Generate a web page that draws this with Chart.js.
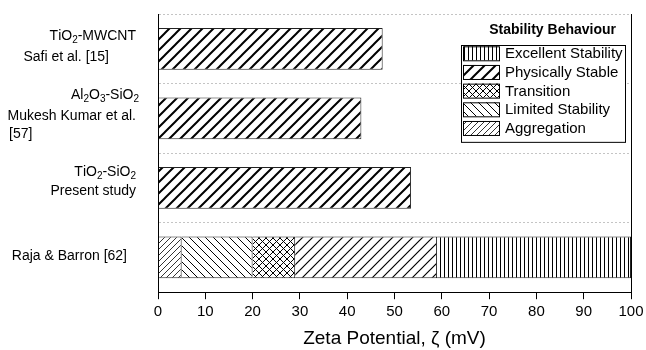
<!DOCTYPE html>
<html>
<head>
<meta charset="utf-8">
<script src="https://cdn.jsdelivr.net/npm/chart.js@4.4.0/dist/chart.umd.min.js"></script>
<style>
html, body { margin: 0; padding: 0; background: #fff; }
#wrap { width: 646px; height: 350px; position: relative; }
</style>
</head>
<body>
<div id="wrap"><canvas id="chart"></canvas></div>
<script>
// rows top to bottom, "_x" marks a subscript
const studyLabels = [
    ['TiO_2-MWCNT', 'Safi et al. [15]'],
    ['Al_2O_3-SiO_2', 'Mukesh Kumar et al.', '[57]'],
    ['TiO_2-SiO_2', 'Present study'],
    ['Raja & Barron [62]']
];
// measured zeta potential, mV
const studyZeta = [47.5, 43, 53.5, null];
// stability bands (Raja & Barron), width of each band in mV
const bandNames = ['Aggregation', 'Limited Stability', 'Transition', 'Physically Stable', 'Excellent Stability'];
const bandWidths = [5, 15, 9, 30, 41];
const bandRow = 3;
const xMin = 0, xMax = 100, xStep = 10;
const legendTitle = 'Stability Behaviour';
const xTitle = 'Zeta Potential, ζ (mV)';

const FONT = 'Liberation Sans, Arial, sans-serif';
Chart.defaults.font.family = FONT;
Chart.defaults.color = '#000';

const ctx = document.getElementById('chart').getContext('2d');

function hatch(kind, size, lw){
    const c = document.createElement('canvas');
    c.width = size; c.height = size;
    const g = c.getContext('2d');
    g.fillStyle = '#fff';
    g.fillRect(0, 0, size, size);
    g.strokeStyle = '#000';
    g.lineWidth = lw;
    g.beginPath();
    if (kind === 'v') { g.moveTo(0.5, 0); g.lineTo(0.5, size); }
    if (kind === '/' || kind === 'x') {
        g.moveTo(-1, size + 1); g.lineTo(size + 1, -1);
        g.moveTo(-1, 1); g.lineTo(1, -1);
        g.moveTo(size - 1, size + 1); g.lineTo(size + 1, size - 1);
    }
    if (kind === '\\' || kind === 'x') {
        g.moveTo(-1, -1); g.lineTo(size + 1, size + 1);
        g.moveTo(size - 1, -1); g.lineTo(size + 1, 1);
        g.moveTo(-1, size - 1); g.lineTo(1, size + 1);
    }
    g.stroke();
    return ctx.createPattern(c, 'repeat');
}

const physThick = hatch('/', 11, 2);
const bandFills = [
    hatch('/', 6, 0.8),
    hatch('\\', 8, 1),
    hatch('x', 7, 1),
    hatch('/', 10, 1.2),
    hatch('v', 4, 1)
];

const datasets = [{
    label: 'studies',
    data: studyZeta,
    backgroundColor: physThick,
    borderColor: '#222',
    borderWidth: 1,
    inLegend: false
}];
bandNames.forEach((name, k) => {
    datasets.push({
        label: name,
        data: studyLabels.map((v, i) => i === bandRow ? bandWidths[k] : null),
        backgroundColor: bandFills[k],
        legendFill: name === 'Physically Stable' ? physThick : bandFills[k],
        borderColor: '#222',
        borderWidth: 1,
        inLegend: true
    });
});

// draws the y labels with subscripts
function richWidth(c, text, size){
    let w = 0;
    for (let i = 0; i < text.length; i++) {
        if (text[i] === '_') { c.font = (size - 4) + 'px ' + FONT; w += c.measureText(text[i + 1]).width; i++; }
        else { c.font = size + 'px ' + FONT; w += c.measureText(text[i]).width; }
    }
    return w;
}
function drawRich(c, text, x, y, size){
    for (let i = 0; i < text.length; i++) {
        if (text[i] === '_') {
            c.font = (size - 4) + 'px ' + FONT;
            c.fillText(text[i + 1], x, y + 4);
            x += c.measureText(text[i + 1]).width;
            i++;
        } else {
            c.font = size + 'px ' + FONT;
            c.fillText(text[i], x, y);
            x += c.measureText(text[i]).width;
        }
    }
}

// per line: vertical offset from row centre, and right edge (or left edge) offset from plot left
const labelLayout = [
    [{dy: -13, right: 22}, {dy: 8, right: 49}],
    [{dy: -23, right: 19}, {dy: -2, right: 22}, {dy: 16, left: 9}],
    [{dy: -16, right: 22}, {dy: 3, right: 22}],
    [{dy: -1, right: 31}]
];

const yLabelPlugin = {
    id: 'yLabels',
    afterDraw(chart){
        const c = chart.ctx, ys = chart.scales.y, left = chart.chartArea.left;
        c.save();
        c.fillStyle = '#000';
        c.textBaseline = 'middle';
        c.textAlign = 'left';
        studyLabels.forEach((lines, i) => {
            const cy = ys.getPixelForValue(i);
            lines.forEach((t, j) => {
                const L = labelLayout[i][j];
                const w = richWidth(c, t, 14);
                const x = L.left !== undefined ? L.left : left - L.right - w;
                drawRich(c, t, x, cy + L.dy, 14);
            });
        });
        c.restore();
    }
};

const legendPlugin = {
    id: 'boxLegend',
    afterDraw(chart){
        const c = chart.ctx, a = chart.chartArea;
        const bx1 = a.right - 6, bx0 = bx1 - 164, by0 = a.top + 31, rowH = 18.67;
        const items = chart.data.datasets.filter(d => d.inLegend).reverse();
        c.save();
        c.fillStyle = '#000';
        c.font = 'bold 14px ' + FONT;
        c.textAlign = 'right';
        c.textBaseline = 'middle';
        c.fillText(legendTitle, bx1 - 9, a.top + 16);
        c.fillStyle = '#fff';
        c.fillRect(bx0, by0, bx1 - bx0, items.length * rowH + 3.5);
        c.strokeStyle = '#000';
        c.lineWidth = 1;
        c.strokeRect(bx0 + 0.5, by0 + 0.5, bx1 - bx0, items.length * rowH + 3.5);
        c.textAlign = 'left';
        c.font = '15px ' + FONT;
        items.forEach((d, k) => {
            const cy = by0 + 8.3 + k * rowH;
            c.fillStyle = d.legendFill;
            c.fillRect(bx0 + 2, cy - 7, 36, 14);
            c.strokeRect(bx0 + 2.5, cy - 6.5, 36, 14);
            c.fillStyle = '#000';
            c.fillText(d.label, bx0 + 44, cy + 1);
        });
        c.restore();
    }
};

new Chart(ctx, {
    type: 'bar',
    data: { labels: studyLabels, datasets },
    options: {
        indexAxis: 'y',
        responsive: true,
        maintainAspectRatio: false,
        animation: false,
        layout: { padding: { left: 158, right: 15, top: 14, bottom: 0 } },
        datasets: { bar: { categoryPercentage: 1, barPercentage: 0.6 } },
        plugins: { legend: { display: false }, tooltip: { enabled: false } },
        scales: {
            x: {
                type: 'linear', stacked: true, min: xMin, max: xMax,
                afterFit: scale => { scale.paddingRight = 0; },
                ticks: { stepSize: xStep, color: '#000', font: { size: 15 }, padding: 4 },
                grid: { drawOnChartArea: false, drawTicks: true, tickLength: 7, tickColor: '#000' },
                border: { color: '#000', width: 1, z: 1 },
                title: { display: true, text: xTitle, color: '#000', font: { size: 19 }, padding: { top: 2, bottom: 0 } }
            },
            y: {
                type: 'category', stacked: true, offset: true,
                ticks: { display: false },
                grid: { offset: true, color: '#c4c4c4', lineWidth: 1, drawTicks: false },
                border: { display: true, color: '#000', width: 1, dash: [2, 2], z: 1 }
            },
            y2: {
                type: 'linear', position: 'right', display: true,
                ticks: { display: false },
                grid: { display: false, drawTicks: false },
                border: { display: true, color: '#000', width: 1, z: 1 }
            }
        }
    },
    plugins: [yLabelPlugin, legendPlugin]
});
</script>
</body>
</html>
